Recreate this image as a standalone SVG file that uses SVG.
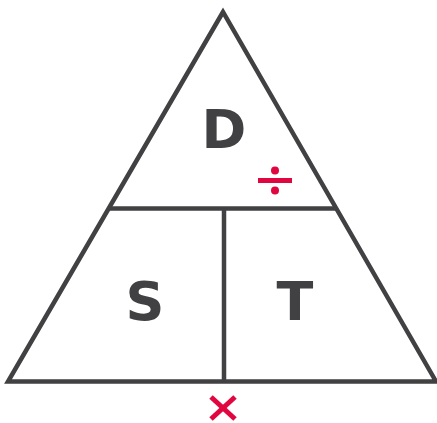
<svg xmlns="http://www.w3.org/2000/svg" width="437" height="423" viewBox="0 0 437 423">
<style>
.ln{stroke:#414042;stroke-width:4.5;fill:none;stroke-linejoin:miter}
.lbl{font-family:"DejaVu Sans",sans-serif;font-weight:bold;font-size:54px;fill:#414042;text-anchor:middle}
.op{stroke:#e0063f;stroke-width:5;fill:none}
</style>
<rect width="437" height="423" fill="#ffffff"/>
<g id="triangle">
<polygon class="ln" points="223,12 8,381.5 436,381.5"/>
</g>
<g id="connectors">
<line class="ln" x1="109" y1="208.5" x2="336" y2="208.5"/>
<line class="ln" x1="224" y1="208.5" x2="224" y2="381.5"/>
</g>
<g id="node-d"><text class="lbl" x="224" y="148">D</text></g>
<g id="node-s"><text class="lbl" x="145" y="320">S</text></g>
<g id="node-t"><text class="lbl" x="295" y="320">T</text></g>
<g id="divide">
<line class="op" x1="258" y1="180.5" x2="292" y2="180.5" stroke-width="5.5"/>
<circle cx="275" cy="170.5" r="4" fill="#e0063f"/>
<circle cx="275" cy="190.5" r="4" fill="#e0063f"/>
</g>
<g id="times">
<line class="op" x1="211" y1="397" x2="235" y2="419"/>
<line class="op" x1="235" y1="397" x2="211" y2="419"/>
</g>
</svg>
